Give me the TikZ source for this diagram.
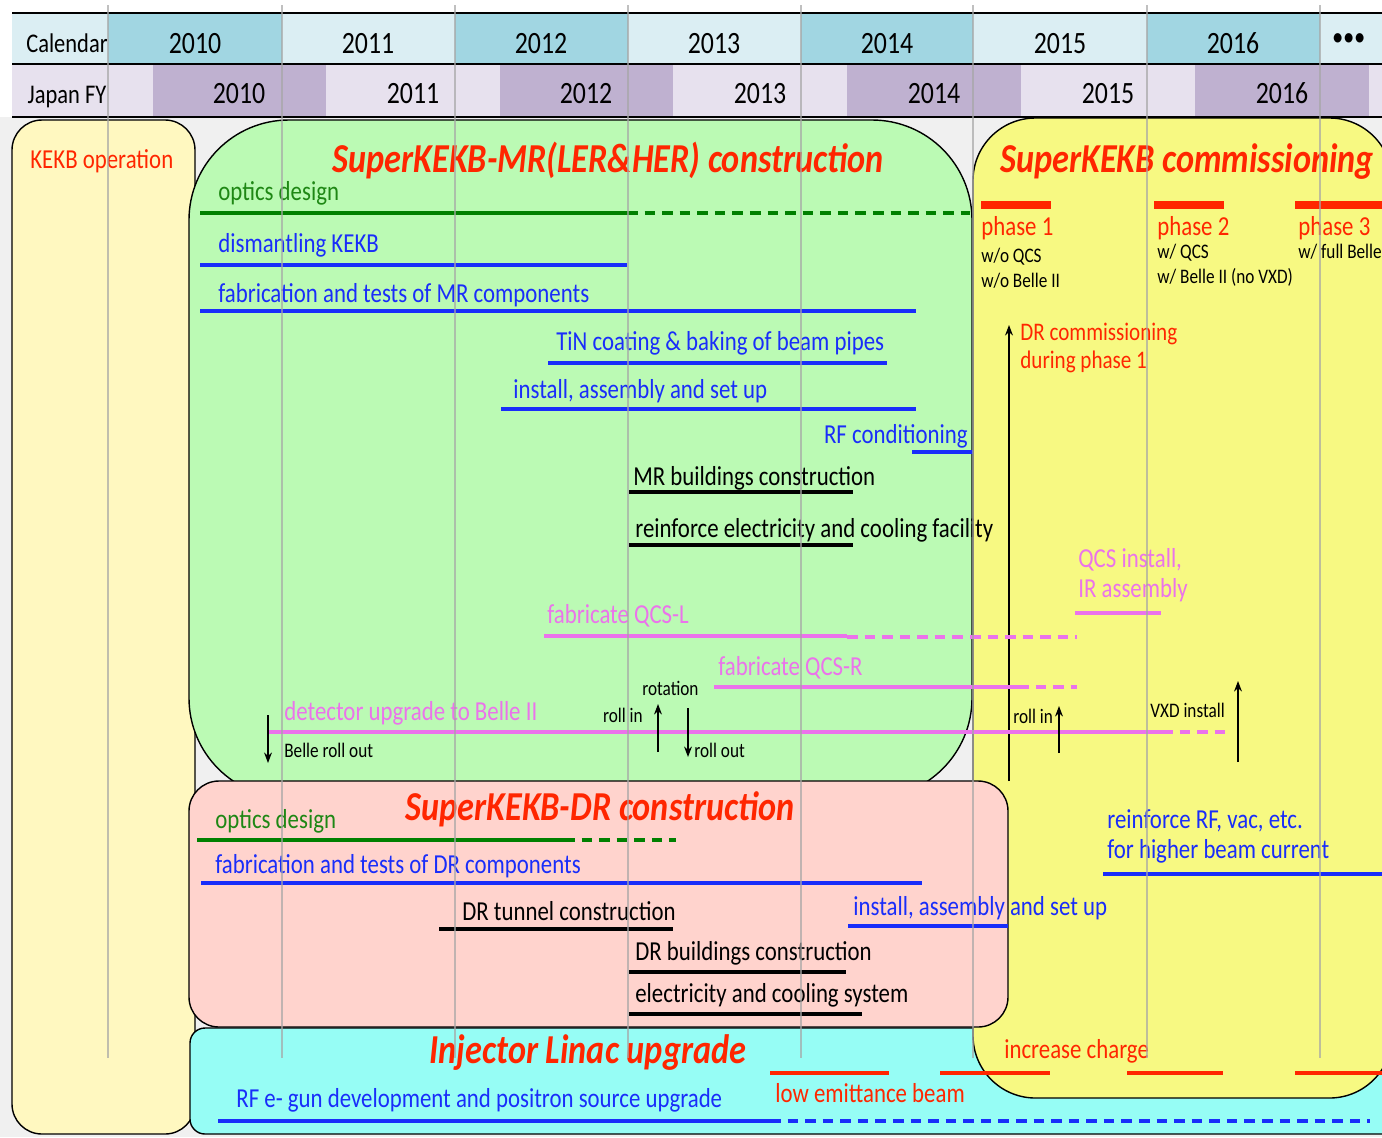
\documentclass[tikz,border=0pt]{standalone}
\usepackage{fontspec}
\setmainfont{Carlito}
\usetikzlibrary{positioning,arrows.meta}

\definecolor{calA}{RGB}{219,238,243}
\definecolor{calB}{RGB}{161,214,226}
\definecolor{fyA}{RGB}{231,225,238}
\definecolor{fyB}{RGB}{191,177,208}
\definecolor{kekbyel}{RGB}{255,248,192}
\definecolor{mrgreen}{RGB}{187,250,180}
\definecolor{comyel}{RGB}{247,249,130}
\definecolor{drpink}{RGB}{255,211,205}
\definecolor{linaccyan}{RGB}{150,253,245}
\definecolor{txtred}{RGB}{255,38,0}
\definecolor{txtblue}{RGB}{25,45,250}
\definecolor{txtgreen}{RGB}{30,135,20}
\definecolor{txtviolet}{RGB}{235,115,235}

\begin{document}
\begin{tikzpicture}[x=0.02cm, y=-0.02cm,
    lbl/.style={anchor=base west, inner sep=0pt, yscale=1.2, font=\fontsize{13}{15}\selectfont},
    sml/.style={lbl, font=\fontsize{9.8}{12}\selectfont},
    ttl/.style={anchor=base, inner sep=0pt, yscale=1.2, text=txtred, font=\fontsize{19.5}{23}\selectfont\bfseries\itshape},
    yr/.style={anchor=base, inner sep=0pt, yscale=1.2, font=\fontsize{14.7}{17}\selectfont},
    box/.style={draw=black, line width=0.8pt},
    bar/.style={line width=2.4pt},
    dbar/.style={bar, dash pattern=on 6pt off 4pt},
    arr/.style={-{Stealth[length=6pt, width=4.5pt]}, line width=0.7pt},
    grid/.style={draw=black!35, line width=1pt, opacity=0.7}]
    \useasboundingbox (0,0) rectangle (1382,1137);
    \clip (0,0) rectangle (1382,1137);
    \fill [white] (0,0) rectangle (1382,1137);
    \fill [black!6] (0,117) rectangle (1382,1137);
    % header rows
    \fill [calA] (12,14) rectangle (1382,64);
    \fill [calB] (108,14) rectangle (282,64);
    \fill [calB] (455,14) rectangle (628,64);
    \fill [calB] (801,14) rectangle (973,64);
    \fill [calB] (1147,14) rectangle (1320,64);
    \fill [fyA] (12,65) rectangle (1382,117);
    \fill [fyB] (153,65) rectangle (326,117);
    \fill [fyB] (500,65) rectangle (673,117);
    \fill [fyB] (847,65) rectangle (1021,117);
    \fill [fyB] (1195,65) rectangle (1369,117);
    \draw [line width=1.3pt] (12,13) -- (1382,13);
    \draw [line width=1.3pt] (12,64) -- (1382,64);
    \draw [line width=1.3pt] (12,117) -- (1382,117);
    \node [yr, font=\fontsize{12.8}{15}\selectfont] (calhead) at (67,52) {Calendar};
    \node [yr, font=\fontsize{12.8}{15}\selectfont] (fyhead) at (67,103) {Japan FY};
    \node [yr] (cal2010) at (195,53) {2010};
    \node [yr] (cal2011) at (368,53) {2011};
    \node [yr] (cal2012) at (541,53) {2012};
    \node [yr] (cal2013) at (714,53) {2013};
    \node [yr] (cal2014) at (887,53) {2014};
    \node [yr] (cal2015) at (1060,53) {2015};
    \node [yr] (cal2016) at (1233,53) {2016};
    \node [yr, font=\fontsize{24}{26}\selectfont\bfseries] (caldots) at (1349,52) {···};
    \node [yr] (fy2010) at (239,103) {2010};
    \node [yr] (fy2011) at (413,103) {2011};
    \node [yr] (fy2012) at (586,103) {2012};
    \node [yr] (fy2013) at (760,103) {2013};
    \node [yr] (fy2014) at (934,103) {2014};
    \node [yr] (fy2015) at (1108,103) {2015};
    \node [yr] (fy2016) at (1282,103) {2016};
    % boxes
    \draw [box, fill=kekbyel, rounded corners=0.6cm] (12,120) rectangle (195,1134);
    \draw [box, fill=linaccyan, rounded corners=0.3cm] (190,1028) rectangle (1420,1134);
    \draw [box, fill=comyel, rounded corners=1.25cm] (973,118) rectangle (1392,1098);
    \draw [box, fill=mrgreen, rounded corners=2cm] (189,120) rectangle (972,798);
    \coordinate (drcomA) at (1009,781);
    \coordinate (drcomB) at (1009,325);
    \draw [arr] (drcomA) -- (drcomB);
    \draw [box, fill=drpink, rounded corners=0.6cm] (189,781) rectangle (1008,1027);
    % KEKB operation
    \node [lbl, text=txtred] (kekbop) at (30,168) {KEKB operation};
    % MR construction
    \node [ttl] (mrtitle) at (608,172) {SuperKEKB-MR(LER\&HER) construction};
    \node [lbl, text=txtgreen] (mroptics) at (218,200) {optics design};
    \draw [bar, green!50!black] (200,213) -- (627,213);
    \draw [dbar, green!50!black] (627,213) -- (970,213);
    \node [lbl, text=txtblue] (dismant) at (218,252) {dismantling KEKB};
    \draw [bar, txtblue] (200,265) -- (627,265);
    \node [lbl, text=txtblue] (mrfab) at (218,302) {fabrication and tests of MR components};
    \draw [bar, txtblue] (200,311) -- (916,311);
    \node [lbl, text=txtblue] (tincoat) at (556,350) {TiN coating \& baking of beam pipes};
    \draw [bar, txtblue] (548,363) -- (887,363);
    \node [lbl, text=txtblue] (mrinst) at (513,398) {install, assembly and set up};
    \draw [bar, txtblue] (501,409) -- (916,409);
    \node [lbl, anchor=base east, text=txtblue] (rfcond) at (968,443) {RF conditioning};
    \draw [bar, txtblue] (912,452) -- (973,452);
    \node [lbl] (mrbuild) at (633,485) {MR buildings construction};
    \draw [bar] (629,492) -- (853,492);
    \node [lbl] (mrelec) at (635,537) {reinforce electricity and cooling facility};
    \draw [bar] (629,545) -- (853,545);
    \node [lbl, text=txtviolet] (qcsl) at (547,623) {fabricate QCS-L};
    \draw [bar, txtviolet] (544,636) -- (847,636);
    \draw [dbar, txtviolet] (847,637) -- (1077,637);
    \node [lbl, text=txtviolet] (qcsr) at (718,675) {fabricate QCS-R};
    \draw [bar, txtviolet] (714,687) -- (1018,687);
    \draw [dbar, txtviolet] (1018,687) -- (1077,687);
    \node [lbl, text=txtviolet] (belleup) at (284,720) {detector upgrade to Belle II};
    \draw [bar, txtviolet] (268,732) -- (1162,732);
    \draw [dbar, txtviolet] (1162,732) -- (1232,732);
    \node [sml] (belleout) at (284,757) {Belle roll out};
    \coordinate (belleA) at (268,715);
    \coordinate (belleB) at (268,763);
    \draw [arr] (belleA) -- (belleB);
    \node [sml] (rotation) at (642,695) {rotation};
    \node [sml, anchor=base east] (rollinA) at (643,722) {roll in};
    \coordinate (rollinAs) at (658,752);
    \coordinate (rollinAe) at (658,704);
    \draw [arr] (rollinAs) -- (rollinAe);
    \node [sml] (rollout) at (694,757) {roll out};
    \coordinate (rolloutS) at (688,708);
    \coordinate (rolloutE) at (688,757);
    \draw [arr] (rolloutS) -- (rolloutE);
    % commissioning
    \node [ttl, anchor=base west] (comtitle) at (1000,172) {SuperKEKB commissioning};
    \draw [txtred, line width=4pt] (981,205) -- (1051,205);
    \draw [txtred, line width=4pt] (1154,205) -- (1224,205);
    \draw [txtred, line width=4pt] (1295,205) -- (1392,205);
    \node [lbl, text=txtred] (phaseA) at (981,235) {phase 1};
    \node [sml] (phaseAa) at (981,262) {w/o QCS};
    \node [sml] (phaseAb) at (981,287) {w/o Belle II};
    \node [lbl, text=txtred] (phaseB) at (1157,235) {phase 2};
    \node [sml] (phaseBa) at (1157,258) {w/ QCS};
    \node [sml] (phaseBb) at (1157,283) {w/ Belle II (no VXD)};
    \node [lbl, text=txtred] (phaseC) at (1298,235) {phase 3};
    \node [sml] (phaseCa) at (1298,258) {w/ full Belle};
    \node [lbl, text=txtred, font=\fontsize{12}{14}\selectfont] (drcomm) at (1020,340) {DR commissioning};
    \node [lbl, text=txtred, font=\fontsize{12}{14}\selectfont] (drcommb) at (1020,368) {during phase 1};
    \node [lbl, text=txtviolet] (qcsinst) at (1078,567) {QCS install,};
    \node [lbl, text=txtviolet] (irass) at (1078,597) {IR assembly};
    \draw [bar, txtviolet] (1075,613) -- (1161,613);
    \node [sml] (rollinB) at (1013,723) {roll in};
    \coordinate (rollinBs) at (1059,753);
    \coordinate (rollinBe) at (1059,706);
    \draw [arr] (rollinBs) -- (rollinBe);
    \node [sml] (vxd) at (1150,717) {VXD install};
    \coordinate (vxdS) at (1238,762);
    \coordinate (vxdE) at (1238,681);
    \draw [arr] (vxdS) -- (vxdE);
    \node [lbl, text=txtblue] (rfvac) at (1107,828) {reinforce RF, vac, etc.};
    \node [lbl, text=txtblue] (rfvacb) at (1107,858) {for higher beam current};
    \draw [bar, txtblue] (1103,874) -- (1392,874);
    \node [lbl, text=txtred] (incharge) at (1004,1058) {increase charge};
    % DR construction
    \node [ttl] (drtitle) at (600,820) {SuperKEKB-DR construction};
    \node [lbl, text=txtgreen] (droptics) at (215,828) {optics design};
    \draw [bar, green!50!black] (197,840) -- (564,840);
    \draw [dbar, green!50!black] (564,840) -- (676,840);
    \node [lbl, text=txtblue] (drfab) at (215,873) {fabrication and tests of DR components};
    \draw [bar, txtblue] (201,883) -- (922,883);
    \node [lbl] (drtunnel) at (462,920) {DR tunnel construction};
    \draw [bar] (439,929) -- (673,929);
    \node [lbl, text=txtblue] (drinst) at (853,915) {install, assembly and set up};
    \draw [bar, txtblue] (848,926) -- (1008,926);
    \node [lbl] (drbuild) at (635,960) {DR buildings construction};
    \draw [bar] (629,972) -- (846,972);
    \node [lbl] (drelec) at (635,1002) {electricity and cooling system};
    \draw [bar] (629,1014) -- (862,1014);
    % injector linac
    \node [ttl] (lintitle) at (588,1063) {Injector Linac upgrade};
    \node [lbl, text=txtblue] (rfgun) at (236,1107) {RF e- gun development and positron source upgrade};
    \draw [bar, txtblue] (218,1121) -- (770,1121);
    \draw [dbar, txtblue] (770,1121) -- (1370,1121);
    \node [lbl, text=txtred] (lowemit) at (775,1102) {low emittance beam};
    \draw [bar, txtred] (770,1073) -- (889,1073);
    \draw [bar, txtred] (940,1073) -- (1050,1073);
    \draw [bar, txtred] (1127,1073) -- (1223,1073);
    \draw [bar, txtred] (1295,1073) -- (1392,1073);
    % year grid
    \draw [grid] (108,5) -- (108,1058);
    \draw [grid] (282,5) -- (282,1058);
    \draw [grid] (455,5) -- (455,1058);
    \draw [grid] (628,5) -- (628,1058);
    \draw [grid] (801,5) -- (801,1058);
    \draw [grid] (973,5) -- (973,1058);
    \draw [grid] (1147,5) -- (1147,1058);
    \draw [grid] (1320,5) -- (1320,1058);
\end{tikzpicture}
\end{document}
